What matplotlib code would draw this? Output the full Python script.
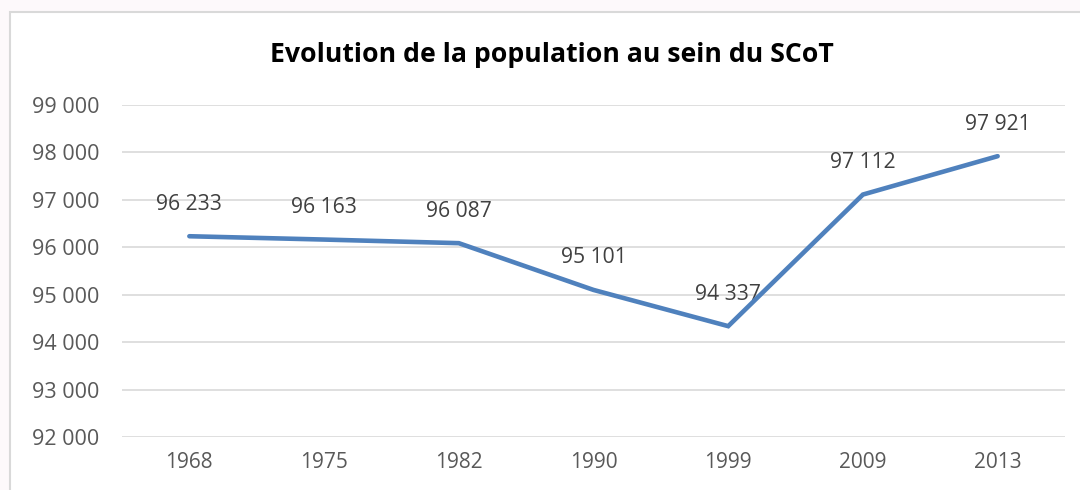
import matplotlib

matplotlib.use("Agg")
import matplotlib.pyplot as plt
from matplotlib.patches import Rectangle
from matplotlib.ticker import FuncFormatter

years = ["1968", "1975", "1982", "1990", "1999", "2009", "2013"]
population = [96233, 96163, 96087, 95101, 94337, 97112, 97921]
y_ticks = [92000, 93000, 94000, 95000, 96000, 97000, 98000, 99000]

LINE = "#4f81bd"
GRID = "#d9d9d9"
TEXT = "#595959"
LABEL = "#404040"

plt.rcParams["font.family"] = ["Open Sans", "DejaVu Sans"]


def fmt_space(v, _pos=None):
    return f"{int(round(v)):,}".replace(",", " ")


fig = plt.figure(figsize=(10.8, 4.9), dpi=100, facecolor="#fdf9fb")
W, H = 1080, 490

# chart box (cropped at right and bottom in the reference)
fig.patches.append(Rectangle((10 / W, -0.1), 1.2, (H - 12) / H + 0.1,
                             transform=fig.transFigure, facecolor="white",
                             edgecolor=GRID, linewidth=1.5, zorder=-10))

ax = fig.add_axes([122 / W, 1 - 437 / H, (1065 - 122) / W, (437 - 105) / H])
ax.set_facecolor("none")
x = list(range(len(years)))
ax.plot(x, population, color=LINE, linewidth=3.3, solid_capstyle="round",
        solid_joinstyle="miter", zorder=3)

for xi, v in zip(x, population):
    ax.annotate(fmt_space(v), (xi, v), textcoords="offset points", xytext=(0, 23),
                ha="center", va="center", fontsize=15.2, color=LABEL, zorder=2)

ax.set_xlim(-0.5, len(years) - 0.5)
ax.set_ylim(92000, 99000)
ax.set_yticks(y_ticks)
ax.yaxis.set_major_formatter(FuncFormatter(fmt_space))
ax.set_xticks(x)
ax.set_xticklabels(years)
ax.grid(axis="y", color=GRID, linewidth=1.2, zorder=0)
ax.set_axisbelow(True)
for s in ax.spines.values():
    s.set_visible(False)
ax.tick_params(length=0, labelcolor=TEXT)
ax.tick_params(axis="y", labelsize=15.5, pad=16.5)
ax.tick_params(axis="x", labelsize=15, pad=11)

fig.text(552 / W, 1 - 55 / H, "Evolution de la population au sein du SCoT",
         ha="center", va="center", fontsize=19.2, fontweight="bold", color="black")

fig.savefig("out.png", dpi=100, facecolor=fig.get_facecolor())
